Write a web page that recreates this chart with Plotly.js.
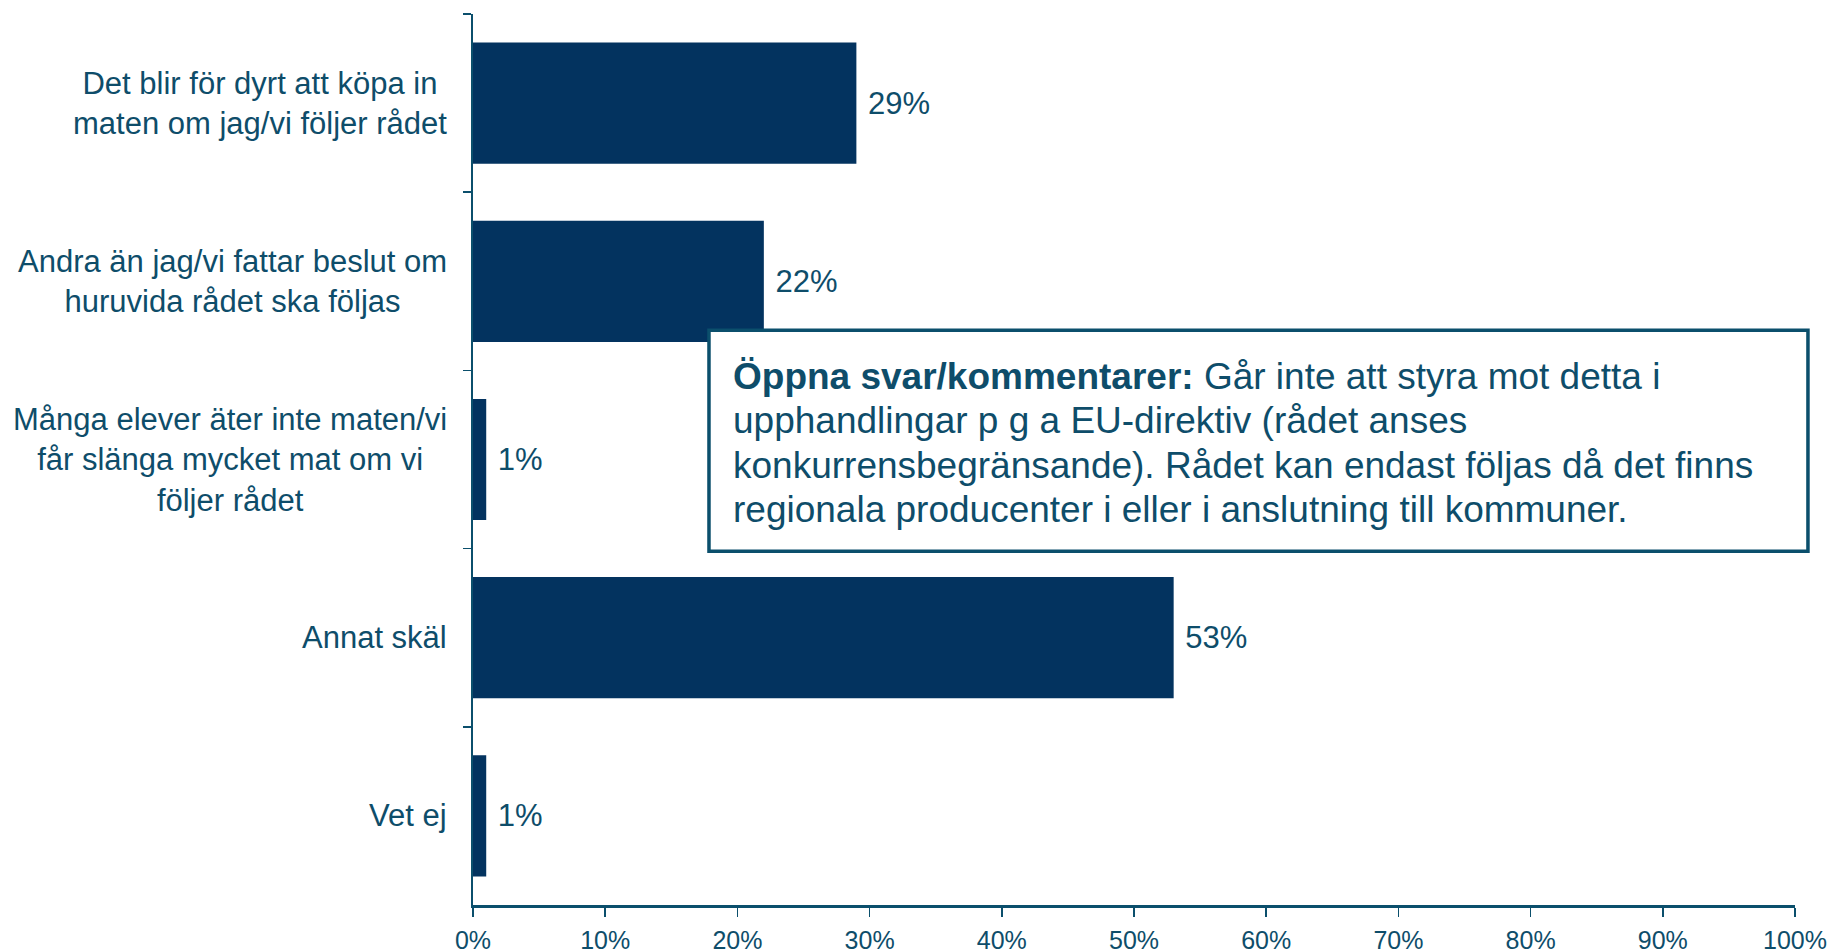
<!DOCTYPE html>
<html>
<head>
<meta charset="utf-8">
<script src="https://cdn.plot.ly/plotly-3.0.1.min.js"></script>
<style>html,body{margin:0;padding:0;background:#fff;}#chart{width:1831px;height:952px;}</style>
</head>
<body>
<div id="chart"></div>
<script>
const categories = [
  "Det blir för dyrt att köpa in<br>maten om jag/vi följer rådet",
  "Andra än jag/vi fattar beslut om<br>huruvida rådet ska följas",
  "Många elever äter inte maten/vi<br>får slänga mycket mat om vi<br>följer rådet",
  "Annat skäl",
  "Vet ej"
];
const values = [29, 22, 1, 53, 1];
const xTickValues = [0, 10, 20, 30, 40, 50, 60, 70, 80, 90, 100];
const xTickLabels = ["0%", "10%", "20%", "30%", "40%", "50%", "60%", "70%", "80%", "90%", "100%"];
const commentLines = [
  "<b>Öppna svar/kommentarer:</b> Går inte att styra mot detta i",
  "upphandlingar p g a EU-direktiv (rådet anses",
  "konkurrensbegränsande). Rådet kan endast följas då det finns",
  "regionala producenter i eller i anslutning till kommuner."
];

const BAR = "#03335F";
const TEXT = "#0E4D6A";
const AXIS = "#0B4F6C";
const FONT = "Liberation Sans, Arial, sans-serif";

const trace = {
  type: "bar",
  orientation: "h",
  y: categories,
  x: values,
  width: 0.68,
  marker: {color: BAR, line: {width: 0}},
  text: values.map(v => " " + v + "%"),
  textposition: "outside",
  cliponaxis: false,
  textfont: {family: FONT, size: 31, color: TEXT},
  hoverinfo: "none"
};

const annotations = categories.map(c => ({
  xref: "paper", yref: "y", x: 0, y: c,
  xanchor: "right", yanchor: "middle", xshift: -24,
  text: c, align: "center", showarrow: false,
  font: {family: FONT, size: 31, color: TEXT}
}));

const lineYs = [0.5937, 0.5443, 0.4938, 0.4444];
commentLines.forEach((t, i) => {
  annotations.push({
    xref: "paper", yref: "paper", x: 0.195, y: lineYs[i],
    xanchor: "left", yanchor: "middle",
    text: t, align: "left", showarrow: false,
    font: {family: FONT, size: 37, color: TEXT}
  });
});

const layout = {
  width: 1831, height: 952,
  margin: {l: 473, r: 36, t: 14, b: 47},
  paper_bgcolor: "#fff", plot_bgcolor: "#fff",
  showlegend: false,
  font: {family: FONT, color: TEXT},
  xaxis: {
    range: [0, 100], tickvals: xTickValues, ticktext: xTickLabels,
    showgrid: false, zeroline: false,
    showline: true, linecolor: AXIS, linewidth: 2.5,
    ticks: "outside", ticklen: 9, tickwidth: 1.5, tickcolor: AXIS,
    tickfont: {family: FONT, size: 25, color: TEXT},
    ticklabelstandoff: 2
  },
  yaxis: {
    type: "category", range: [4.5, -0.5],
    tickson: "boundaries", ticks: "outside", ticklen: 8, tickwidth: 1.5, tickcolor: AXIS,
    showticklabels: false, showgrid: false, zeroline: false,
    showline: true, linecolor: AXIS, linewidth: 2
  },
  shapes: [{
    type: "rect", xref: "paper", yref: "paper",
    x0: 0.1785, x1: 1.0098, y0: 0.397, y1: 0.645,
    fillcolor: "#fff", line: {color: AXIS, width: 3.5}, layer: "above"
  }],
  annotations: annotations
};

Plotly.newPlot("chart", [trace], layout, {displayModeBar: false, staticPlot: true});
</script>
</body>
</html>
